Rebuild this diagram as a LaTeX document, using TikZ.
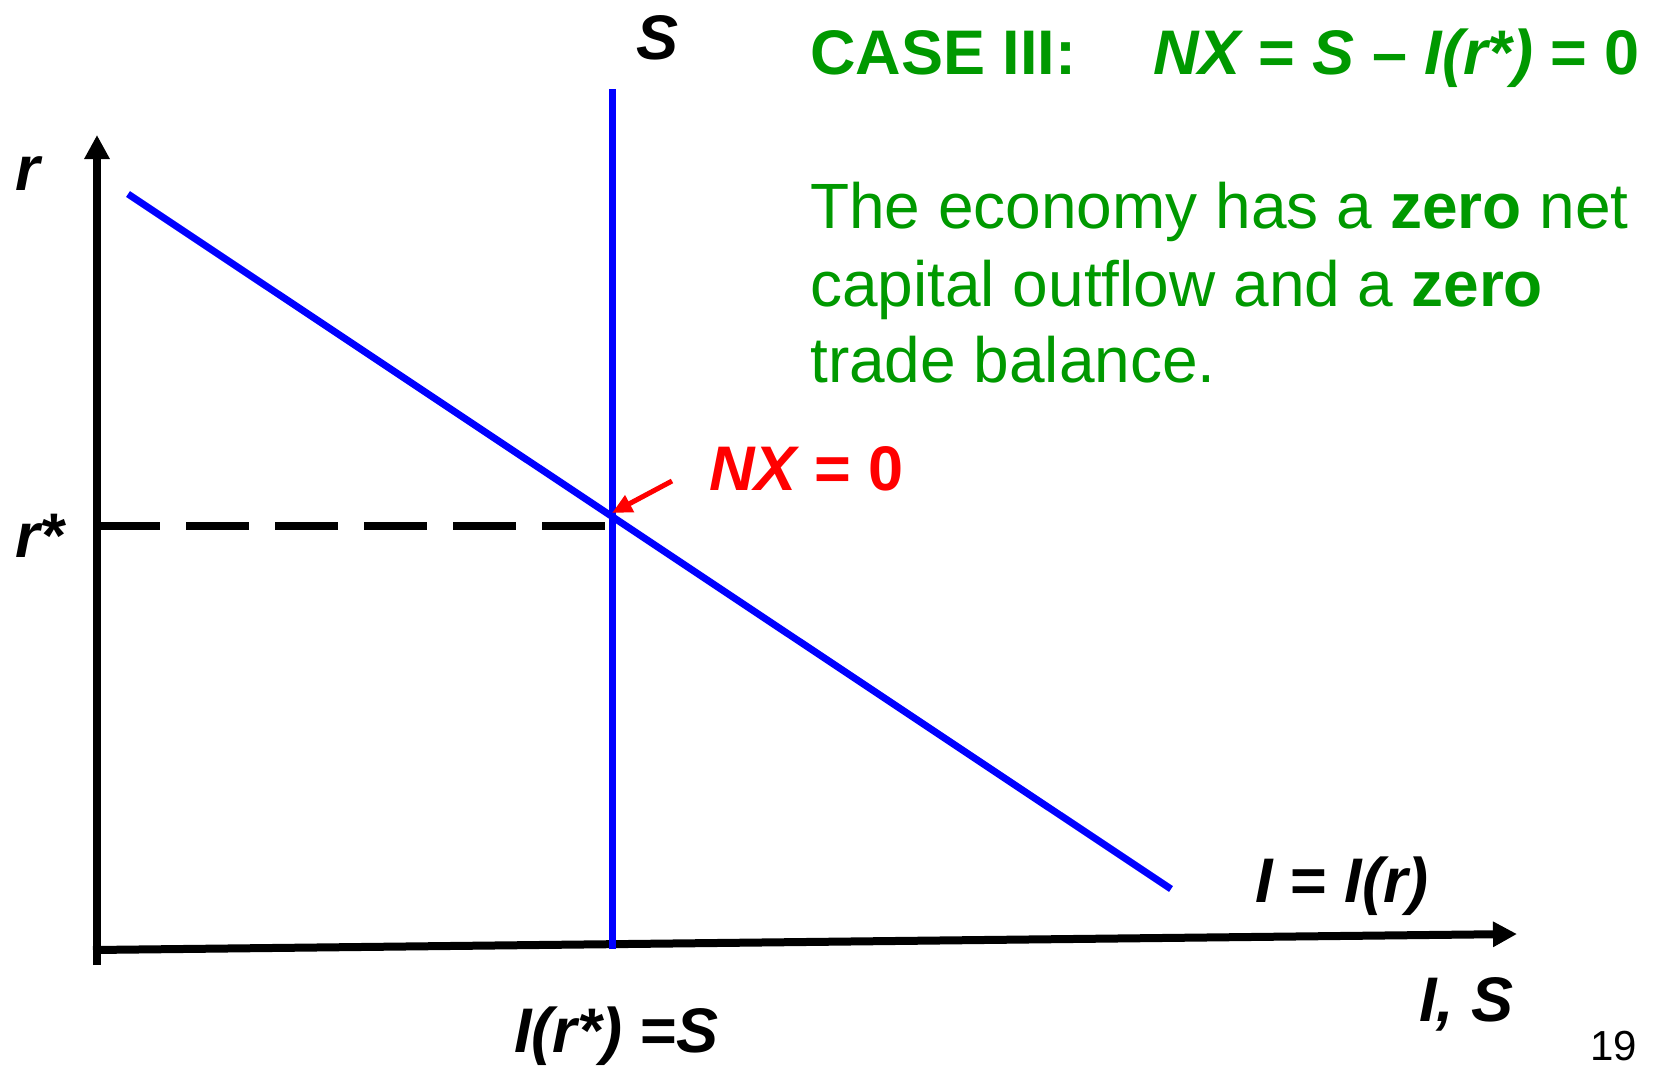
\documentclass[tikz,border=0pt]{standalone}
\usepackage{fontspec}
\setmainfont{Liberation Sans}
\usetikzlibrary{arrows.meta}
\definecolor{tgreen}{RGB}{0,153,0}
\begin{document}
\begin{tikzpicture}[x=1pt,y=-1pt,
  axisline/.style={line width=8pt, black, -{Triangle[length=24pt,width=24pt]}},
  curve/.style={line width=7pt, blue},
  lbl/.style={inner sep=0pt, font=\fontsize{63}{63}\selectfont\bfseries\itshape},
  body/.style={inner sep=0pt, anchor=base west, text=tgreen, font=\fontsize{64}{64}\selectfont}]
\useasboundingbox (0,0) rectangle (1654,1066);

% axes
\coordinate (ybot) at (97,965);
\coordinate (ytop) at (97,135);
\coordinate (xl) at (93,950);
\coordinate (xr) at (1517,934);
\draw[axisline] (ybot) -- (ytop);
\draw[axisline] (xl) -- (xr);

% curves
\coordinate (Itop) at (128,194);
\coordinate (Ibot) at (1171,889);
\coordinate (Stop) at (612,89);
\coordinate (Sbot) at (612,949);
\draw[curve] (Itop) -- (Ibot);
\draw[curve] (Stop) -- (Sbot);

% dashed r*
\coordinate (dl) at (97,526);
\coordinate (dr) at (612,526);
\draw[line width=7.5pt, dash pattern=on 63pt off 26pt] (dl) -- (dr);

% labels
\node[lbl, anchor=base west] (lr) at (15,190) {r};
\node[lbl, anchor=base west] (lrs) at (15,557) {r*};
\node[lbl, anchor=base west] (lS) at (636,59) {S};
\node[lbl, anchor=base west] (lI) at (1255,902) {I {\upshape=} I(r)};
\node[lbl, anchor=base west] (lIS) at (1419,1021) {I, S};
\node[lbl, anchor=base west] (lIrs) at (514,1052) {I(r*) {\upshape=}S};
\node[inner sep=0pt, anchor=base east, font=\fontsize{42}{42}\selectfont] (pg) at (1637,1060) {19};

% NX = 0 annotation
\node[lbl, anchor=base west, text=red] (nx) at (709,490) {NX {\upshape= 0}};
\coordinate (atail) at (672,481);
\coordinate (ahead) at (612,513);
\draw[red, line width=5pt, -{Triangle[length=20pt,width=18pt]}] (atail) -- (ahead);

% title
\node[inner sep=0pt, anchor=base west, text=tgreen, font=\fontsize{63}{63}\selectfont\bfseries] (case) at (810,74) {CASE III:};
\node[lbl, anchor=base west, text=tgreen] (eq) at (1153,74) {NX {\upshape=} S {\upshape--} I(r*) {\upshape= 0}};

% body text
\node[body] (b1) at (810,228) {The economy has a \textbf{zero} net};
\node[body] (b2) at (810,306) {capital outflow and a \textbf{zero}};
\node[body] (b3) at (810,382) {trade balance.};
\end{tikzpicture}
\end{document}
